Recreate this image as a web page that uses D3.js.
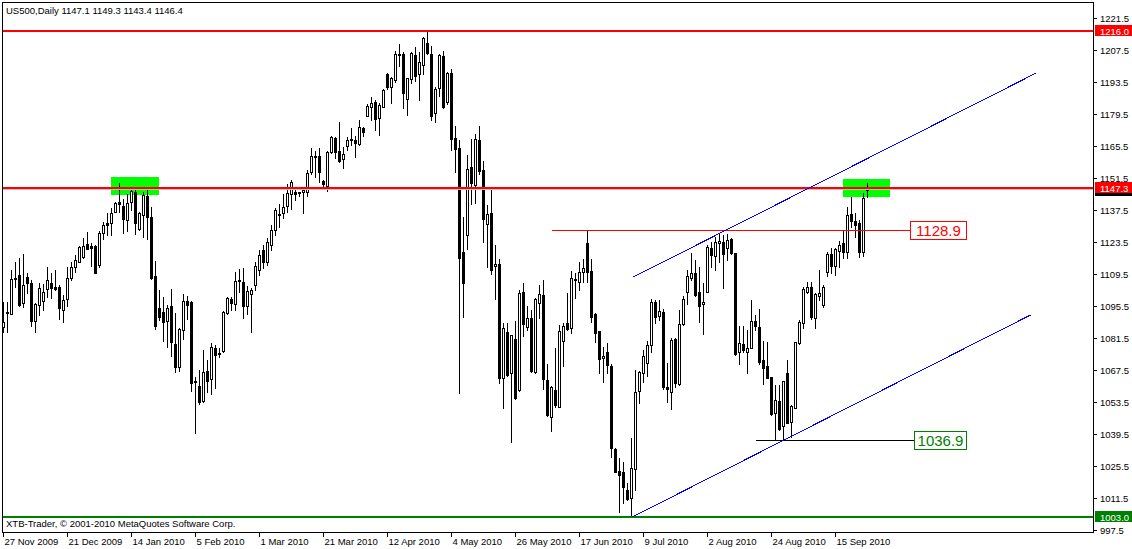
<!DOCTYPE html>
<html><head><meta charset="utf-8">
<script src="https://cdn.jsdelivr.net/npm/d3@7"></script>
<style>
body{margin:0;background:#fff}
svg{display:block}
text{font-family:"Liberation Sans",Arial,sans-serif}
</style>
</head><body>
<svg id="chart" width="1132" height="549"></svg>
<script>
// ---- DATA (US500 Daily) ----
const symbolTitle = "US500,Daily  1147.1 1149.3 1143.4 1146.4";
const copyright = "XTB-Trader, © 2001-2010 MetaQuotes Software Corp.";
const opens = [1086.2,1093.0,1092.0,1107.6,1108.9,1096.7,1108.3,1105.4,1089.1,1095.9,1097.7,1102.9,1105.4,1104.0,1103.7,1093.7,1098.4,1107.6,1112.7,1114.9,1117.1,1122.7,1121.8,1121.8,1113.5,1127.3,1131.7,1132.0,1136.8,1140.9,1139.3,1133.2,1141.2,1145.3,1129.2,1135.4,1143.7,1134.6,1108.6,1094.5,1092.7,1089.1,1095.5,1078.8,1068.9,1085.0,1097.7,1097.1,1062.6,1060.4,1054.0,1067.0,1063.4,1077.0,1074.8,1075.9,1092.3,1098.4,1096.4,1106.6,1105.9,1095.6,1100.6,1104.7,1111.3,1120.0,1114.8,1122.2,1128.8,1135.8,1136.1,1139.4,1144.4,1145.3,1145.3,1145.3,1145.6,1154.3,1161.2,1161.2,1150.3,1148.2,1162.8,1169.2,1163.5,1159.8,1165.7,1168.7,1168.2,1166.5,1173.4,1178.9,1182.8,1185.0,1177.7,1182.8,1197.2,1191.6,1194.5,1205.6,1205.9,1186.1,1194.8,1205.5,1197.0,1201.1,1210.6,1205.9,1179.9,1190.9,1205.0,1184.8,1197.5,1169.0,1164.6,1119.0,1126.6,1156.3,1148.5,1168.2,1155.1,1131.3,1136.1,1113.0,1113.8,1063.8,1084.0,1066.0,1081.0,1058.7,1101.8,1086.4,1090.4,1066.4,1096.7,1100.3,1063.1,1047.0,1058.7,1051.4,1080.3,1087.9,1085.7,1107.3,1106.1,1110.5,1123.2,1111.0,1092.0,1084.5,1072.6,1075.2,1069.3,1032.8,1023.2,1022.6,1014.9,1011.2,1023.9,1058.4,1066.2,1070.4,1078.4,1097.4,1091.2,1092.7,1059.9,1057.9,1081.0,1061.3,1087.6,1101.5,1107.9,1109.8,1101.8,1096.2,1101.8,1121.0,1117.5,1123.0,1123.7,1120.8,1124.9,1118.6,1075.5,1078.8,1075.5,1077.2,1089.1,1086.4,1071.8,1069.3,1064.2,1048.5,1054.0,1042.9,1066.3,1044.8,1050.9,1079.1,1087.9,1101.5,1104.0,1090.1,1099.9,1095.9,1110.3,1118.3,1113.2,1119.7,1123.2,1119.3,1135.8,1132.7,1132.0,1119.3,1147.1];
const highs = [1097.4,1097.4,1111.3,1114.6,1116.4,1118.1,1109.8,1106.9,1096.7,1105.4,1105.1,1112.4,1109.8,1111.3,1104.7,1100.3,1112.4,1114.9,1117.8,1121.8,1125.2,1128.1,1123.2,1122.2,1128.5,1132.4,1136.1,1138.3,1141.2,1149.3,1142.2,1144.6,1146.8,1146.3,1136.8,1145.6,1146.3,1138.7,1115.2,1102.5,1099.6,1095.9,1102.9,1092.3,1085.7,1100.6,1099.9,1097.7,1064.3,1067.5,1076.2,1071.8,1079.1,1078.4,1077.0,1093.3,1099.6,1099.6,1110.3,1111.7,1112.0,1104.3,1103.3,1114.8,1120.0,1122.2,1125.3,1131.0,1138.3,1140.2,1144.6,1149.0,1150.7,1146.8,1145.6,1147.1,1155.1,1164.9,1163.5,1164.9,1150.7,1163.4,1170.0,1169.7,1176.3,1165.3,1169.7,1173.4,1170.0,1177.0,1173.8,1184.0,1187.2,1185.8,1184.6,1190.5,1197.7,1196.0,1207.2,1210.3,1206.9,1195.5,1206.9,1208.9,1206.7,1213.2,1216.0,1209.4,1191.3,1205.9,1207.2,1197.9,1199.2,1174.4,1168.2,1134.6,1161.7,1168.7,1170.9,1174.4,1159.0,1139.8,1146.8,1122.2,1116.1,1087.9,1088.2,1082.8,1088.9,1102.5,1105.7,1095.5,1093.7,1098.9,1104.7,1106.9,1070.1,1060.6,1077.2,1087.2,1088.2,1101.3,1111.0,1109.8,1114.9,1116.1,1128.9,1116.1,1092.3,1084.5,1077.7,1079.1,1070.1,1033.1,1029.0,1027.0,1017.8,1037.5,1067.5,1067.1,1076.2,1080.3,1098.4,1098.1,1098.1,1094.0,1070.4,1081.3,1081.3,1093.7,1100.0,1111.3,1118.6,1115.6,1112.7,1105.4,1122.2,1123.7,1125.9,1127.3,1126.6,1127.0,1125.2,1118.8,1086.7,1086.7,1085.0,1098.1,1091.5,1094.0,1080.2,1079.9,1064.5,1060.9,1060.9,1062.8,1071.8,1052.1,1079.9,1089.4,1104.0,1106.1,1106.1,1101.1,1111.3,1104.7,1119.3,1120.8,1120.8,1124.1,1128.4,1139.0,1143.4,1136.1,1133.2,1144.9,1149.3];
const lows = [1084.2,1084.2,1091.8,1103.7,1095.6,1094.9,1101.1,1086.9,1084.2,1091.5,1093.7,1099.3,1098.9,1102.5,1089.8,1088.3,1095.6,1106.9,1110.5,1114.8,1116.4,1120.5,1113.2,1109.8,1112.7,1124.7,1126.6,1126.5,1136.7,1136.8,1127.3,1128.5,1137.6,1126.9,1128.8,1125.9,1124.7,1107.3,1085.4,1089.4,1080.3,1077.7,1073.7,1066.7,1067.0,1081.0,1089.8,1058.4,1040.0,1052.4,1053.6,1057.9,1056.8,1059.7,1073.0,1075.5,1092.0,1093.7,1093.7,1101.8,1090.1,1091.9,1084.0,1102.5,1109.1,1112.1,1113.5,1120.0,1126.6,1130.2,1133.9,1136.8,1137.9,1141.9,1143.8,1136.1,1143.8,1153.3,1152.2,1150.0,1147.1,1146.0,1162.4,1160.2,1158.7,1155.8,1163.9,1166.0,1160.7,1166.0,1170.0,1178.7,1177.0,1172.6,1170.4,1182.6,1190.5,1184.6,1193.8,1200.8,1182.4,1179.2,1193.3,1194.2,1185.8,1197.0,1205.9,1177.0,1176.3,1187.6,1182.4,1184.0,1163.9,1154.3,1057.2,1090.5,1120.5,1140.1,1140.5,1153.3,1123.4,1112.4,1109.4,1098.4,1061.9,1050.7,1065.0,1036.0,1054.7,1058.4,1082.5,1085.0,1066.7,1066.2,1090.4,1059.0,1047.3,1040.9,1051.4,1051.1,1069.3,1085.0,1083.5,1099.1,1102.5,1106.0,1106.1,1088.6,1079.6,1066.0,1062.3,1066.0,1029.5,1022.6,1005.4,1009.0,1010.5,1003.0,1014.9,1053.1,1062.3,1064.8,1075.5,1087.9,1089.4,1059.0,1053.6,1050.2,1060.1,1060.9,1087.2,1096.2,1106.9,1099.9,1088.6,1083.1,1101.6,1112.7,1111.3,1114.9,1103.3,1115.6,1118.3,1074.0,1069.9,1075.3,1066.0,1076.9,1085.0,1070.1,1061.2,1063.8,1047.7,1036.9,1041.2,1036.9,1044.1,1038.2,1050.7,1078.8,1085.7,1101.1,1089.7,1085.7,1098.1,1094.9,1108.6,1109.8,1109.1,1112.7,1116.4,1116.4,1130.0,1125.9,1116.8,1117.4,1143.4];
const closes = [1088.6,1092.3,1107.2,1107.2,1096.1,1104.6,1105.4,1089.1,1096.2,1103.3,1101.5,1106.9,1103.3,1102.9,1094.5,1098.1,1107.6,1112.4,1115.6,1121.2,1121.8,1120.6,1121.0,1110.1,1127.3,1131.0,1131.0,1136.4,1140.5,1140.1,1133.5,1140.5,1146.0,1131.7,1136.1,1144.1,1134.4,1107.6,1086.9,1090.8,1088.6,1094.7,1079.9,1068.9,1085.4,1097.7,1095.9,1061.6,1062.1,1053.3,1066.6,1062.8,1077.4,1074.0,1075.0,1093.0,1099.1,1096.9,1106.4,1106.9,1095.5,1102.1,1102.5,1113.0,1117.8,1114.8,1123.5,1128.8,1137.6,1135.5,1139.0,1144.9,1149.7,1144.4,1144.9,1146.2,1153.9,1161.2,1160.7,1154.3,1148.8,1162.8,1169.4,1163.1,1159.2,1162.1,1168.2,1168.2,1166.8,1174.1,1171.6,1183.3,1184.3,1177.3,1183.6,1190.1,1191.3,1195.3,1205.9,1205.9,1188.7,1195.3,1206.2,1196.4,1202.3,1212.8,1206.2,1178.9,1190.5,1205.5,1182.6,1197.5,1168.5,1164.2,1116.4,1105.4,1155.4,1149.5,1168.5,1154.8,1133.5,1135.8,1111.3,1113.8,1064.1,1085.7,1065.3,1082.8,1055.3,1101.3,1087.6,1090.1,1067.0,1098.6,1100.8,1063.5,1047.7,1060.1,1052.1,1084.5,1086.7,1085.3,1107.9,1106.9,1110.3,1112.0,1110.3,1090.8,1083.8,1072.1,1073.7,1069.6,1033.1,1022.9,1021.4,1016.3,1010.9,1024.4,1057.7,1066.7,1073.7,1078.4,1097.4,1090.8,1093.4,1060.1,1059.0,1080.6,1061.6,1087.6,1098.6,1108.6,1110.1,1100.3,1095.6,1097.4,1121.5,1117.8,1123.7,1124.0,1118.1,1124.4,1118.6,1074.6,1079.1,1076.2,1077.2,1089.1,1086.9,1071.1,1068.5,1064.1,1048.2,1054.3,1041.5,1062.6,1044.4,1051.7,1079.6,1088.4,1102.9,1103.7,1090.8,1100.8,1101.1,1104.0,1118.3,1113.2,1120.5,1122.2,1119.3,1135.4,1132.9,1131.0,1119.3,1142.7,1146.4];

const priceTicks = [1221.5,1207.5,1193.5,1179.5,1165.5,1151.5,1137.5,1123.5,1109.5,1095.5,1081.5,1067.5,1053.5,1039.5,1025.5,1011.5,997.5];
const dateLabels = ["27 Nov 2009","21 Dec 2009","14 Jan 2010","5 Feb 2010","1 Mar 2010","21 Mar 2010","12 Apr 2010","4 May 2010","26 May 2010","17 Jun 2010","9 Jul 2010","2 Aug 2010","24 Aug 2010","15 Sep 2010"];
const dateBars = [0,16,32,48,64,80,96,112,128,144,160,176,192,208];

// horizontal levels
const fullLevels = [
  {price:1216.0, color:"#ff0000", width:2, label:"1216.0", labelBg:"#ff0000"},
  {price:1147.3, color:"#ff0000", width:2, label:"1147.3", labelBg:"#ff0000"},
  {price:1003.0, color:"#008000", width:2, label:"1003.0", labelBg:"#008000"}
];
const bidPrice = 1146.4;
const segLevels = [
  {price:1128.9, fromBar:137, toBar:226.7, boxEndBar:240.6, color:"#ff0000", text:"1128.9", textColor:"#ff0000"},
  {price:1036.9, fromBar:188, toBar:227.7, boxEndBar:240.6, color:"#000000", text:"1036.9", textColor:"#008000"}
];
// trend channel (bar index, price)
const channel = [
  {b1:157.5, p1:1108.2, b2:258.2, p2:1197.6},
  {b1:157.2, p1:1003.0, b2:256.7, p2:1091.5}
];
// highlighted zones
const zones = [
  {b1:26.9, b2:38.9, p1:1152.0, p2:1144.1},
  {b1:209.9, b2:221.7, p1:1151.1, p2:1143.2}
];

// ---- DRAW ----
const svg = d3.select("#chart");
const L = 2, T = 2, R = 1093, B = 532;
const x = d3.scaleLinear().domain([0, 1]).range([3.5, 7.5]);
const y = d3.scaleLinear().domain([1003, 1216]).range([517, 31]);

svg.append("defs").append("clipPath").attr("id","plot")
  .append("rect").attr("x",L+1).attr("y",T+1).attr("width",R-L-1).attr("height",B-T-1);

const plot = svg.append("g").attr("clip-path","url(#plot)");

// zones
plot.selectAll("rect.zone").data(zones).join("rect").attr("class","zone")
  .attr("x", d=>Math.round(x(d.b1))).attr("y", d=>Math.round(y(d.p1)))
  .attr("width", d=>Math.round(x(d.b2))-Math.round(x(d.b1)))
  .attr("height", d=>Math.round(y(d.p2))-Math.round(y(d.p1)))
  .attr("fill","#00ff00");

// candles
const bars = d3.range(opens.length).map(i=>({i,o:opens[i],h:highs[i],l:lows[i],c:closes[i]}));
const cg = plot.append("g").attr("shape-rendering","crispEdges");
bars.forEach(d=>{
  const cx = Math.floor(x(d.i));
  const yh = Math.round(y(d.h)), yl = Math.round(y(d.l));
  const top = Math.round(y(Math.max(d.o,d.c))), bot = Math.round(y(Math.min(d.o,d.c)));
  cg.append("line").attr("x1",cx+0.5).attr("x2",cx+0.5).attr("y1",yh).attr("y2",yl+1)
    .attr("stroke","#000").attr("stroke-width",1);
  if (d.c >= d.o) {
    cg.append("rect").attr("x",cx-0.5).attr("y",top+0.5).attr("width",2).attr("height",Math.max(bot-top,1))
      .attr("fill","#fff").attr("stroke","#000").attr("stroke-width",1);
  } else {
    cg.append("rect").attr("x",cx-1).attr("y",top).attr("width",3).attr("height",bot-top+1)
      .attr("fill","#000");
  }
});

// bid line
const yb = Math.floor(y(bidPrice))+0.5;
plot.append("line").attr("x1",L).attr("x2",R).attr("y1",yb).attr("y2",yb)
  .attr("stroke","#c0c0c0").attr("stroke-width",1).attr("shape-rendering","crispEdges");

// full levels
plot.selectAll("line.lvl").data(fullLevels).join("line").attr("class","lvl")
  .attr("x1",L).attr("x2",R).attr("y1",d=>Math.round(y(d.price))).attr("y2",d=>Math.round(y(d.price)))
  .attr("stroke",d=>d.color).attr("stroke-width",d=>d.width).attr("shape-rendering","crispEdges");

// segment levels with labels
segLevels.forEach(d=>{
  const yy = Math.round(y(d.price))+0.5;
  const x1 = x(d.fromBar), x2 = Math.round(x(d.toBar)), x3 = Math.round(x(d.boxEndBar));
  plot.append("line").attr("x1",x1).attr("x2",x2).attr("y1",yy).attr("y2",yy)
    .attr("stroke",d.color).attr("stroke-width",1).attr("shape-rendering","crispEdges");
  const g = svg.append("g");
  g.append("rect").attr("x",x2+0.5).attr("y",Math.round(yy-9.5)+0.5).attr("width",x3-x2).attr("height",18)
    .attr("fill","#fff").attr("stroke",d.textColor).attr("stroke-width",1).attr("shape-rendering","crispEdges");
  g.append("text").attr("x",(x2+x3)/2+0.5).attr("y",yy+5.5).attr("text-anchor","middle")
    .attr("font-size",15).attr("fill",d.textColor).text(d.text);
});

// channel
plot.selectAll("line.ch").data(channel).join("line").attr("class","ch")
  .attr("x1",d=>x(d.b1)).attr("y1",d=>y(d.p1)).attr("x2",d=>x(d.b2)).attr("y2",d=>y(d.p2))
  .attr("stroke","#0000ff").attr("stroke-width",1).attr("shape-rendering","crispEdges");

// frame
svg.append("rect").attr("x",L+0.5).attr("y",T+0.5).attr("width",R-L).attr("height",B-T)
  .attr("fill","none").attr("stroke","#000").attr("stroke-width",1).attr("shape-rendering","crispEdges");

// price axis
const ya = svg.append("g");
priceTicks.forEach(p=>{
  const yy = Math.round(y(p))+0.5;
  ya.append("line").attr("x1",R+1).attr("x2",R+4).attr("y1",yy).attr("y2",yy).attr("stroke","#000").attr("shape-rendering","crispEdges");
  ya.append("text").attr("x",R+7).attr("y",yy+3.5).attr("font-size",9.5).attr("fill","#000").text(p.toFixed(1));
});
// bid label (black) under red label
ya.append("rect").attr("x",R+2).attr("y",Math.round(y(bidPrice))-5).attr("width",1132-R-2).attr("height",11).attr("fill","#000");
fullLevels.forEach(d=>{
  const yy = Math.round(y(d.price));
  ya.append("rect").attr("x",R+2).attr("y",yy-6).attr("width",1132-R-2).attr("height",11).attr("fill",d.labelBg);
  ya.append("text").attr("x",R+7).attr("y",yy+3.5).attr("font-size",9.5).attr("fill","#fff").text(d.label);
});

// time axis
const xa = svg.append("g");
dateBars.forEach((b,k)=>{
  const xx = Math.floor(x(b))+0.5;
  xa.append("line").attr("x1",xx).attr("x2",xx).attr("y1",B).attr("y2",B+5).attr("stroke","#000").attr("shape-rendering","crispEdges");
  xa.append("text").attr("x",xx+1).attr("y",B+13).attr("font-size",9.5).attr("fill","#000").text(dateLabels[k]);
});

// texts
svg.append("text").attr("x",6).attr("y",14).attr("font-size",9.5).attr("fill","#000").text(symbolTitle);
svg.append("text").attr("x",6).attr("y",527).attr("font-size",9.5).attr("fill","#000").text(copyright);
</script>
</body></html>
